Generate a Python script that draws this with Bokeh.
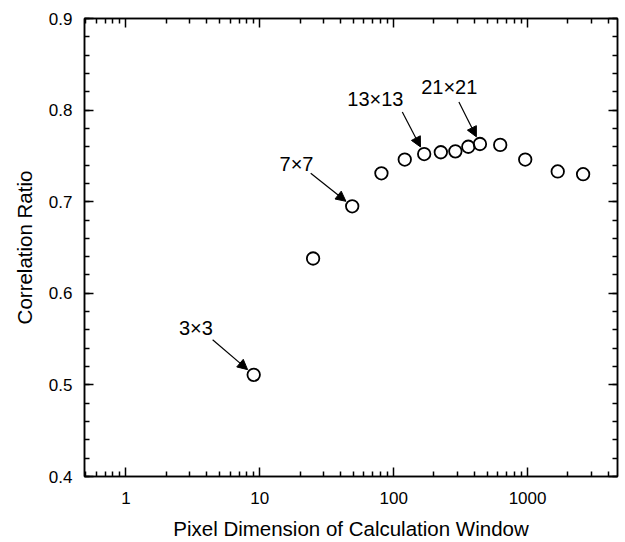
import math
import numpy as np
from bokeh.plotting import figure
from bokeh.models import (Range1d, FixedTicker, LogAxis, LinearAxis, Label,
                          Arrow, NormalHead, ColumnDataSource)
from bokeh.embed import file_html
from bokeh.resources import INLINE

# Window size (pixels in the square window) vs. correlation ratio
window_side = [3, 5, 7, 9, 11, 13, 15, 17, 19, 21, 25, 31, 41, 51]
pixel_dimension = [s * s for s in window_side]
correlation_ratio = [0.511, 0.638, 0.695, 0.731, 0.746, 0.752, 0.754,
                     0.755, 0.760, 0.763, 0.762, 0.746, 0.733, 0.730]

x_major_ticks = [1, 10, 100, 1000]
x_tick_labels = ["1", "10", "100", "1000"]
y_major_ticks = [0.4, 0.5, 0.6, 0.7, 0.8, 0.9]
y_tick_labels = ["0.4", "0.5", "0.6", "0.7", "0.8", "0.9"]

# Callouts: text, label position, arrow tail, index of the point it marks
callout_text = ["3\u00d73", "7\u00d77", "13\u00d713", "21\u00d721"]
callout_label_x = [3.33, 18.8, 73.0, 260.0]
callout_label_y = [0.5617, 0.7414, 0.8116, 0.8247]
callout_tail_x = [4.44, 24.0, 116.0, 307.0]
callout_tail_y = [0.5493, 0.731, 0.798, 0.8089]
callout_target = [0, 2, 5, 9]

FONT = "Liberation Sans"
X_RANGE = (0.49, 4700)
Y_RANGE = (0.4, 0.9)
W, H = 625, 542
BL, BR, BT, BB = 84, 8, 18, 66

p = figure(width=W, height=H, x_axis_type="log",
           x_range=Range1d(*X_RANGE), y_range=Range1d(*Y_RANGE),
           output_backend="svg", toolbar_location=None,
           min_border_left=BL, min_border_right=BR,
           min_border_top=BT, min_border_bottom=BB,
           background_fill_color="white", border_fill_color="white")
p.grid.visible = False
p.outline_line_color = "black"
p.outline_line_width = 1.5

x_minor = [k * 10.0 ** d for d in range(-1, 4) for k in range(2, 10)
           if X_RANGE[0] <= k * 10.0 ** d <= X_RANGE[1]]
y_minor = [round(v, 2) for v in np.arange(0.4, 0.9001, 0.02)]
xt = FixedTicker(ticks=x_major_ticks, minor_ticks=x_minor)
yt = FixedTicker(ticks=y_major_ticks, minor_ticks=y_minor)


def style(ax, labels):
    ax.axis_line_color = "black"
    ax.axis_line_width = 1.5
    ax.major_tick_line_color = "black"
    ax.major_tick_line_width = 1.5
    ax.minor_tick_line_color = "black"
    ax.minor_tick_line_width = 1.5
    ax.major_tick_in = 9
    ax.major_tick_out = 0
    ax.minor_tick_in = 5
    ax.minor_tick_out = 0
    if labels:
        ax.major_label_text_font = FONT
        ax.major_label_text_font_size = "17px"
        ax.major_label_text_color = "black"
        ax.axis_label_text_font = FONT
        ax.axis_label_text_font_size = "20.5px"
        ax.axis_label_text_font_style = "normal"
        ax.axis_label_text_color = "black"
    else:
        # frame-side axes carry ticks only
        ax.major_label_text_font_size = "1px"
        ax.major_label_text_color = None
        ax.major_label_standoff = 0


xb = p.xaxis[0]
xb.ticker = xt
xb.major_label_overrides = dict(zip(x_major_ticks, x_tick_labels))
xb.axis_label = "Pixel Dimension of Calculation Window"
style(xb, True)
xb.major_label_standoff = 15
xb.axis_label_standoff = 10

yl = p.yaxis[0]
yl.ticker = yt
yl.major_label_overrides = dict(zip(y_major_ticks, y_tick_labels))
yl.axis_label = "Correlation Ratio"
style(yl, True)
yl.major_label_standoff = 12
yl.axis_label_standoff = 10

xtop = LogAxis(ticker=xt)
style(xtop, False)
p.add_layout(xtop, "above")
yright = LinearAxis(ticker=yt)
style(yright, False)
p.add_layout(yright, "right")

src = ColumnDataSource(dict(x=pixel_dimension, y=correlation_ratio))
p.scatter("x", "y", source=src, marker="circle", size=12.5,
          fill_color=None, line_color="black", line_width=1.8)

# pixel scale of the frame, used to stop arrows just short of the circles
fw = W - BL - BR
fh = H - BT - BB
px_per_decade = fw / (math.log10(X_RANGE[1]) - math.log10(X_RANGE[0]))
px_per_unit = fh / (Y_RANGE[1] - Y_RANGE[0])

for txt, lx, ly, tx, ty, ti in zip(callout_text, callout_label_x, callout_label_y,
                                   callout_tail_x, callout_tail_y, callout_target):
    p.add_layout(Label(x=lx, y=ly, text=txt, text_font=FONT,
                       text_font_size="20px", text_align="center",
                       text_baseline="middle", text_color="black"))
    px, py = pixel_dimension[ti], correlation_ratio[ti]
    dx = (math.log10(px) - math.log10(tx)) * px_per_decade
    dy = (py - ty) * px_per_unit
    dist = math.hypot(dx, dy)
    f = (dist - 8.0) / dist
    hx = 10 ** (math.log10(tx) + (math.log10(px) - math.log10(tx)) * f)
    hy = ty + (py - ty) * f
    p.add_layout(Arrow(x_start=tx, y_start=ty, x_end=hx, y_end=hy,
                       line_color="black", line_width=1.2,
                       end=NormalHead(size=10, fill_color="black",
                                      line_color="black", line_width=1)))

open("out.html", "w").write(file_html(p, INLINE))
